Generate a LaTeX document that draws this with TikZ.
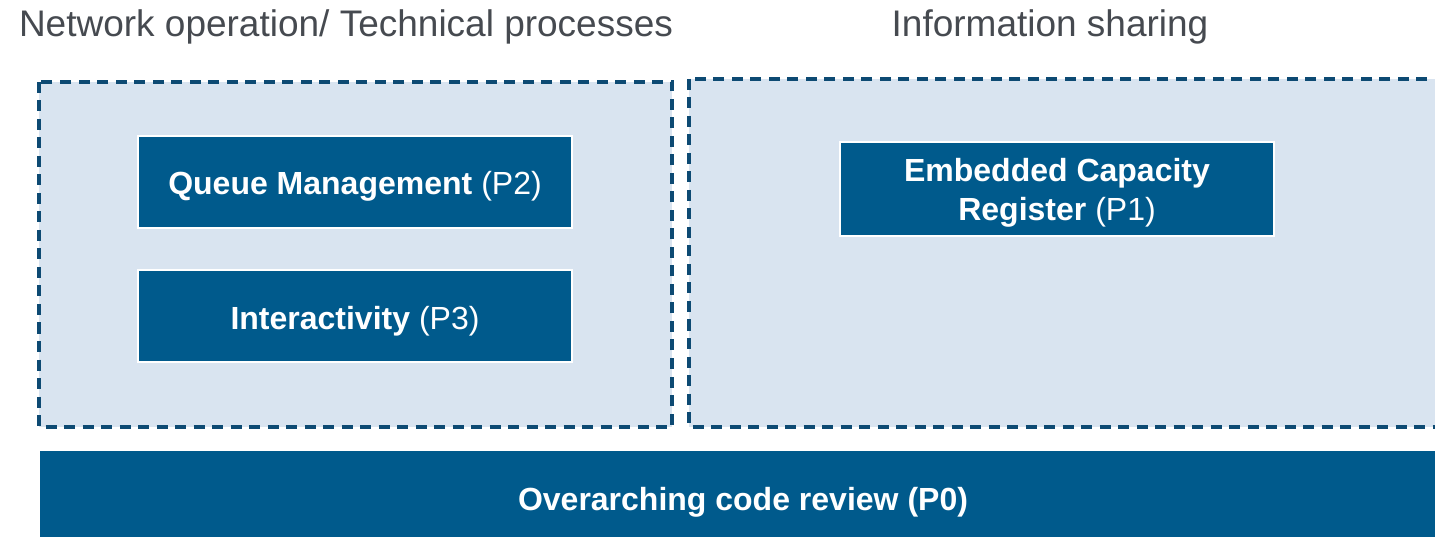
\documentclass[tikz,border=0pt]{standalone}
\usepackage{fontspec}
\setmainfont{Liberation Sans}
\definecolor{deepblue}{HTML}{005A8C}
\definecolor{paleblue}{HTML}{D9E4F0}
\definecolor{dashnavy}{HTML}{0D4A73}
\definecolor{titlegray}{HTML}{464A50}
\tikzset{
  areabox/.style={fill=paleblue, draw=dashnavy, line width=3.2pt, dash pattern=on 11pt off 7.5pt},
  taskbox/.style={fill=deepblue, draw=white, line width=2pt, minimum width=434pt},
  tasktext/.style={text=white, align=center, inner sep=0pt,
    font=\fontsize{32}{39}\selectfont},
  headline/.style={text=titlegray, font=\fontsize{37}{42}\selectfont, inner sep=0pt}
}
\begin{document}
\begin{tikzpicture}[x=1pt,y=-1pt]
\useasboundingbox (0,0) rectangle (1435,537);
\clip (0,0) rectangle (1435,537);
% headings
\node[headline, anchor=base] (hleft) at (346,37) {Network operation/ Technical processes};
\node[headline, anchor=base] (hright) at (1050,37) {Information sharing};
% dashed areas
\path[areabox] (39,82) rectangle (672,427);
\path[areabox] (689,79) rectangle (1450,427);
% task boxes
\node[taskbox, minimum height=92pt] (queue) at (355,182) {};
\node[tasktext] (queuetxt) at ([yshift=-4pt]queue.center) {\textbf{Queue Management} (P2)};
\node[taskbox, minimum height=92pt] (inter) at (355,316) {};
\node[tasktext] (intertxt) at ([yshift=-5pt]inter.center) {\textbf{Interactivity} (P3)};
\node[taskbox, minimum height=94pt] (ecr) at (1057,189) {};
\node[tasktext] (ecrtxt) at ([yshift=-4pt]ecr.center)
  {\textbf{Embedded Capacity}\\\textbf{Register} (P1)};
% review bar
\path[fill=deepblue] (40,451) rectangle (1450,545);
\node[tasktext] (review) at (743,502)
  {\textbf{Overarching code review (P0)}};
\end{tikzpicture}
\end{document}
